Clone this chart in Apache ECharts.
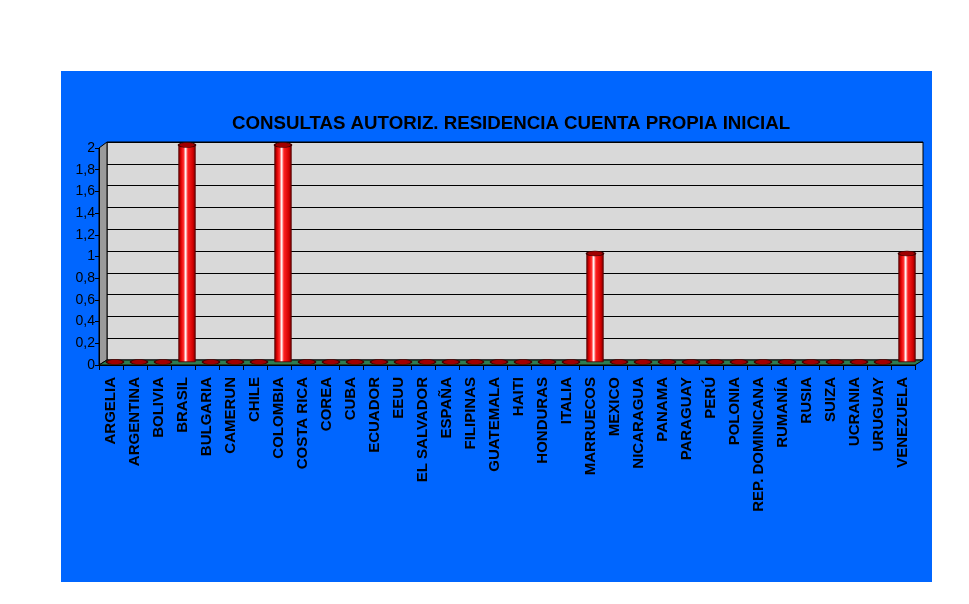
<!DOCTYPE html>
<html>
<head>
<meta charset="utf-8">
<script src="https://cdn.jsdelivr.net/npm/echarts@6/dist/echarts.min.js"></script>
<style>
html,body{margin:0;padding:0;background:#fff;}
#c{width:969px;height:604px;}
</style>
</head>
<body>
<div id="c"></div>
<script>
const categories = ["ARGELIA","ARGENTINA","BOLIVIA","BRASIL","BULGARIA","CAMERUN","CHILE","COLOMBIA","COSTA RICA","COREA","CUBA","ECUADOR","EEUU","EL SALVADOR","ESPAÑA","FILIPINAS","GUATEMALA","HAITI","HONDURAS","ITALIA","MARRUECOS","MEXICO","NICARAGUA","PANAMA","PARAGUAY","PERÚ","POLONIA","REP. DOMINICANA","RUMANÍA","RUSIA","SUIZA","UCRANIA","URUGUAY","VENEZUELA"];
const values = [0,0,0,2,0,0,0,2,0,0,0,0,0,0,0,0,0,0,0,0,1,0,0,0,0,0,0,0,0,0,0,0,0,1];
const titleText = "CONSULTAS AUTORIZ. RESIDENCIA CUENTA PROPIA INICIAL";
const yMin = 0, yMax = 2, yStep = 0.2;

const chart = echarts.init(document.getElementById('c'));
const font = "'Liberation Sans', Arial, sans-serif";

const cylinder = {
  type: 'linear', x: 0, y: 0, x2: 1, y2: 0,
  colorStops: [
    {offset: 0, color: '#6a0000'},
    {offset: 0.15, color: '#e00000'},
    {offset: 0.3, color: '#ff3030'},
    {offset: 0.42, color: '#ffffff'},
    {offset: 0.55, color: '#ff2020'},
    {offset: 0.85, color: '#d00000'},
    {offset: 1, color: '#700000'}
  ]
};

const grids = [
  {left: 107, right: 46, top: 142, bottom: 244, show: true, backgroundColor: '#d9d9d9', borderColor: '#000', borderWidth: 1, z: 0},
  {left: 103, right: 50, top: 145, bottom: 242},
  {left: 99, right: 54, top: 148, bottom: 239}
];

function yAxisFor(i, visible) {
  return {
    type: 'value', gridIndex: i, min: yMin, max: yMax, interval: yStep, z: i === 0 ? 1 : 4,
    axisLine: {show: visible, lineStyle: {color: '#000', width: 1}},
    axisTick: {show: visible, length: 4, lineStyle: {color: '#000'}},
    axisLabel: {show: visible, color: '#000', fontFamily: font, fontSize: 14, margin: 4,
      formatter: v => String(Math.round(v * 10) / 10).replace('.', ',')},
    splitLine: {show: i === 0, lineStyle: {color: '#000', width: 1}}
  };
}
function xAxisFor(i, visible) {
  return {
    type: 'category', gridIndex: i, data: categories, z: 4,
    axisLine: {show: visible, lineStyle: {color: '#000', width: 1}},
    axisTick: {show: visible, length: 5, lineStyle: {color: '#000'}},
    axisLabel: {show: visible, rotate: 90, interval: 0, color: '#000', fontFamily: font,
      fontSize: 15, fontWeight: 'bold', margin: 12},
    splitLine: {show: false}
  };
}

const option = {
  backgroundColor: '#ffffff',
  animation: false,
  title: {
    text: titleText, left: 506, top: 109, textAlign: 'center',
    textStyle: {color: '#000', fontFamily: font, fontSize: 18.7, fontWeight: 'bold'}
  },
  grid: grids,
  xAxis: [xAxisFor(0, false), xAxisFor(1, false), xAxisFor(2, true)],
  yAxis: [yAxisFor(0, false), yAxisFor(1, false), yAxisFor(2, true)],
  series: [
    {
      type: 'bar', xAxisIndex: 1, yAxisIndex: 1, data: values, barWidth: 17, z: 5,
      itemStyle: {color: cylinder, borderColor: '#5a0000', borderWidth: 0.5}
    },
    {
      type: 'scatter', xAxisIndex: 1, yAxisIndex: 1, z: 6,
      data: values.map((v, i) => [i, v]),
      symbol: 'circle', symbolSize: [17, 5],
      itemStyle: {color: '#a00000', borderColor: '#400000', borderWidth: 1, opacity: 1}
    }
  ]
};
chart.setOption(option);

function rectOf(i) {
  try {
    return chart.getModel().getComponent('grid', i).coordinateSystem.getRect();
  } catch (e) { return null; }
}
const back = rectOf(0), front = rectOf(2);
if (back && front) {
  const bl = back.x, br = back.x + back.width, bt = back.y, bb = back.y + back.height;
  const fl = front.x, fr = front.x + front.width, ft = front.y, fb = front.y + front.height;
  chart.setOption({
    graphic: [
      {type: 'rect', z: -10, silent: true, shape: {x: 61, y: 71, width: 871, height: 511},
        style: {fill: '#0066ff'}},
      {type: 'polygon', z: 2, silent: true,
        shape: {points: [[fl, ft], [bl, bt], [bl, bb], [fl, fb]]},
        style: {fill: '#9a9a9a', stroke: '#000', lineWidth: 1}},
      {type: 'polygon', z: 3, silent: true,
        shape: {points: [[fl, fb], [bl, bb], [br, bb], [fr, fb]]},
        style: {fill: '#2e7d52', stroke: '#000', lineWidth: 1}}
    ]
  });
}
</script>
</body>
</html>
